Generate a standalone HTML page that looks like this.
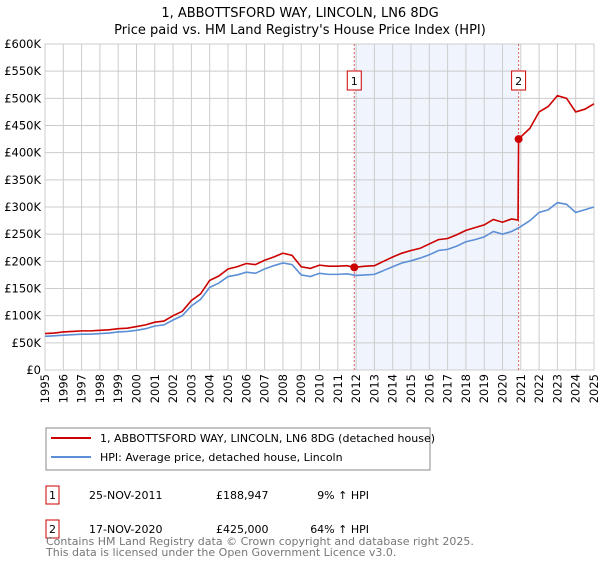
<!DOCTYPE html>
<html><head><meta charset="utf-8"><style>
body{margin:0;background:#fff;font-family:"Liberation Sans","DejaVu Sans",sans-serif;}
svg text{font-family:"DejaVu Sans","Liberation Sans",sans-serif;}
</style></head><body>
<svg id="c" width="600" height="560" viewBox="0 0 600 560">
<text x="300" y="17" text-anchor="middle" font-size="13">1, ABBOTTSFORD WAY, LINCOLN, LN6 8DG</text>
<text x="300" y="34" text-anchor="middle" font-size="13">Price paid vs. HM Land Registry's House Price Index (HPI)</text>
<g id="plot"></g>
<g>
<rect x="46" y="428" width="384" height="42" fill="#fff" stroke="#888"/>
<line x1="51" y1="438" x2="91" y2="438" stroke="#cc0000" stroke-width="2"/>
<text x="100" y="442" font-size="11">1, ABBOTTSFORD WAY, LINCOLN, LN6 8DG (detached house)</text>
<line x1="51" y1="457" x2="91" y2="457" stroke="#5b8fd6" stroke-width="2"/>
<text x="100" y="461" font-size="11">HPI: Average price, detached house, Lincoln</text>
</g>
<g>
<rect x="46" y="486" width="13" height="18" fill="#fff" stroke="#cc0000"/>
<text x="52.5" y="499" font-size="11" text-anchor="middle">1</text>
<text x="89" y="499" font-size="11">25-NOV-2011</text>
<text x="216" y="499" font-size="11">£188,947</text>
<text x="369" y="499" font-size="11" text-anchor="end">9% ↑ HPI</text>
<rect x="46" y="520" width="13" height="18" fill="#fff" stroke="#cc0000"/>
<text x="52.5" y="533" font-size="11" text-anchor="middle">2</text>
<text x="89" y="533" font-size="11">17-NOV-2020</text>
<text x="216" y="533" font-size="11">£425,000</text>
<text x="369" y="533" font-size="11" text-anchor="end">64% ↑ HPI</text>
</g>
<text x="46" y="545" font-size="11" fill="#777">Contains HM Land Registry data © Crown copyright and database right 2025.</text>
<text x="46" y="556" font-size="11" fill="#777">This data is licensed under the Open Government Licence v3.0.</text>
</svg>
<script>
const hpiYears=[1995,1995.5,1996,1996.5,1997,1997.5,1998,1998.5,1999,1999.5,2000,2000.5,2001,2001.5,2002,2002.5,2003,2003.5,2004,2004.5,2005,2005.5,2006,2006.5,2007,2007.5,2008,2008.5,2009,2009.5,2010,2010.5,2011,2011.5,2012,2012.5,2013,2013.5,2014,2014.5,2015,2015.5,2016,2016.5,2017,2017.5,2018,2018.5,2019,2019.5,2020,2020.5,2020.9,2021.5,2022,2022.5,2023,2023.5,2024,2024.5,2025];
const hpiValues=[62,63,64,65,66,66,67,68,70,71,73,76,81,83,92,100,118,130,152,160,172,175,180,178,186,192,197,194,175,172,178,176,176,177,174,175,176,183,190,197,201,206,212,220,222,228,236,240,245,255,250,255,262,275,290,295,308,305,290,295,300];
const priceYears=[1995,1995.5,1996,1996.5,1997,1997.5,1998,1998.5,1999,1999.5,2000,2000.5,2001,2001.5,2002,2002.5,2003,2003.5,2004,2004.5,2005,2005.5,2006,2006.5,2007,2007.5,2008,2008.5,2009,2009.5,2010,2010.5,2011,2011.5,2011.9,2012.5,2013,2013.5,2014,2014.5,2015,2015.5,2016,2016.5,2017,2017.5,2018,2018.5,2019,2019.5,2020,2020.5,2020.85,2020.88,2021.5,2022,2022.5,2023,2023.5,2024,2024.5,2025];
const priceValues=[67,68,70,71,72,72,73,74,76,77,80,83,88,90,100,108,128,140,165,173,186,190,196,194,202,208,215,211,190,187,193,191,191,192,189,191,192,200,208,215,220,224,232,240,242,249,257,262,267,277,272,278,276,425,445,475,485,505,500,475,480,490];
const sales=[{label:"1",year:2011.9,value:188.947},{label:"2",year:2020.88,value:425}];
const yTicks=[0,50,100,150,200,250,300,350,400,450,500,550,600];
const yTickLabels=["£0","£50K","£100K","£150K","£200K","£250K","£300K","£350K","£400K","£450K","£500K","£550K","£600K"];
const xTicks=[1995,1996,1997,1998,1999,2000,2001,2002,2003,2004,2005,2006,2007,2008,2009,2010,2011,2012,2013,2014,2015,2016,2017,2018,2019,2020,2021,2022,2023,2024,2025];

const L=45,R=594,T=44,B=370;
const X=y=>L+(y-1995)/30*(R-L);
const Y=v=>B-v/600*(B-T);
const ns="http://www.w3.org/2000/svg";
const g=document.getElementById('plot');
function mk(t,a){const e=document.createElementNS(ns,t);for(const k in a)e.setAttribute(k,a[k]);g.appendChild(e);return e;}
const shade=mk('rect',{x:X(sales[0].year),y:T,width:X(sales[1].year)-X(sales[0].year),height:B-T,fill:'#f0f4fd'});


yTicks.forEach((v,i)=>{
 const l=mk('line',{x1:L,x2:R,y1:Y(v),y2:Y(v),stroke:'#ccc'});
 
 
 const t=mk('text',{x:L-4,y:Y(v)+4,'text-anchor':'end','font-size':'11.5'});t.textContent=yTickLabels[i];
 
 
});
xTicks.forEach(v=>{
 const l=mk('line',{x1:X(v),x2:X(v),y1:T,y2:B,stroke:'#ccc'});
 
 
 const t=mk('text',{x:0,y:0,'font-size':'11.5','text-anchor':'end',transform:`translate(${X(v)+4},${B+4}) rotate(-90)`});t.textContent=v;
 
 
});
const fr=mk('rect',{x:L,y:T,width:R-L,height:B-T,fill:'none',stroke:'#ccc'});


sales.forEach(s=>{
 const l=mk('line',{x1:X(s.year),x2:X(s.year),y1:T,y2:B,stroke:'#e06060','stroke-dasharray':'2,2'});
 
 
 const r=mk('rect',{x:X(s.year)-7,y:71,width:14,height:19,fill:'#fff',stroke:'#cc0000'});
 
 
 const t=mk('text',{x:X(s.year),y:85,'text-anchor':'middle','font-size':'11'});t.textContent=s.label;
});
function line(xs,vs,c,name){
 const p=mk('polyline',{points:xs.map((x,i)=>X(x)+','+Y(vs[i])).join(' '),fill:'none',stroke:c,'stroke-width':'1.6'});
 
 
}
line(hpiYears,hpiValues,'#5b8fd6','hpi-line');
line(priceYears,priceValues,'#cc0000','property-price-line');
sales.forEach(s=>{
 const c=mk('circle',{cx:X(s.year),cy:Y(s.value),r:4,fill:'#cc0000'});
 
 
});
</script>
</body></html>
